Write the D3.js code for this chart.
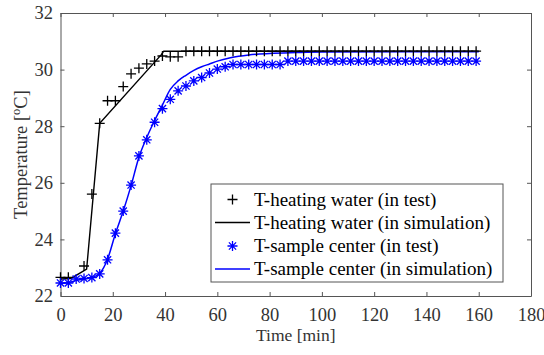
<!DOCTYPE html>
<html>
<head>
<meta charset="utf-8">
<script src="https://cdn.jsdelivr.net/npm/d3@7"></script>
<style>
  body { margin: 0; background: #fff; }
  svg { display: block; }
  svg text { font-family: 'Liberation Serif', 'Times New Roman', Times, serif; }
</style>
</head>
<body>
<div id="chart"></div>
<script>
// heating water, measured
const heatTestTime = [0, 3, 9, 12, 15, 18, 21, 24, 27, 30, 33, 36, 39, 42, 45,
  48, 51, 54, 57, 60, 63, 66, 69, 72, 75, 78, 81, 84, 87, 90, 93, 96, 99, 102, 105,
  108, 111, 114, 117, 120, 123, 126, 129, 132, 135, 138, 141, 144, 147, 150, 153, 156, 159];
const heatTestTemp = [22.66, 22.66, 23.06, 25.6, 28.1, 28.9, 28.9, 29.4, 29.85, 30.05, 30.2, 30.3, 30.48, 30.45, 30.45,
  30.65, 30.65, 30.65, 30.65, 30.65, 30.65, 30.65, 30.65, 30.65, 30.65, 30.65, 30.65, 30.65, 30.65, 30.65, 30.65, 30.65, 30.65, 30.65, 30.65,
  30.65, 30.65, 30.65, 30.65, 30.65, 30.65, 30.65, 30.65, 30.65, 30.65, 30.65, 30.65, 30.65, 30.65, 30.65, 30.65, 30.65, 30.65];

// heating water, simulation
const heatSimTime = [0, 4, 10, 15, 38.5, 39.5, 160];
const heatSimTemp = [22.6, 22.62, 22.95, 28.1, 30.52, 30.65, 30.65];

// sample center, measured
const sampleTestTime = [0, 3, 6, 9, 12, 15, 18, 21, 24, 27, 30, 33, 36, 39, 42, 45,
  48, 51, 54, 57, 60, 63, 66, 69, 72, 75, 78, 81, 84, 87, 90, 93, 96, 99, 102, 105,
  108, 111, 114, 117, 120, 123, 126, 129, 132, 135, 138, 141, 144, 147, 150, 153, 156, 159];
const sampleTestTemp = [22.46, 22.46, 22.6, 22.62, 22.65, 22.78, 23.28, 24.22, 25.0, 25.92, 26.95, 27.52, 28.14, 28.62, 28.95, 29.25,
  29.42, 29.6, 29.72, 29.88, 30.02, 30.1, 30.18, 30.18, 30.18, 30.18, 30.18, 30.18, 30.18, 30.3, 30.3, 30.3, 30.3, 30.3, 30.3, 30.3,
  30.3, 30.3, 30.3, 30.3, 30.3, 30.3, 30.3, 30.3, 30.3, 30.3, 30.3, 30.3, 30.3, 30.3, 30.3, 30.3, 30.3, 30.3];

// sample center, simulation
const sampleSimTime = [0, 3, 6, 9, 12, 15, 18, 21, 24, 27, 30, 33, 36, 39, 42, 45, 48, 51, 54, 57, 60, 65, 72, 80, 90, 100, 160];
const sampleSimTemp = [22.45, 22.47, 22.55, 22.6, 22.65, 22.8, 23.3, 24.2, 25.0, 25.9, 26.9, 27.6, 28.2, 28.75, 29.3, 29.6, 29.8, 29.97, 30.1, 30.2, 30.3, 30.42, 30.52, 30.57, 30.6, 30.62, 30.63];

const xTicks = [0, 20, 40, 60, 80, 100, 120, 140, 160, 180];
const yTicks = [22, 24, 26, 28, 30, 32];

const legendLabels = [
  "T-heating water (in test)",
  "T-heating water (in simulation)",
  "T-sample center (in test)",
  "T-sample center (in simulation)"
];

const W = 544, H = 355;
const plotLeft = 60.5, plotRight = 531, plotTop = 13, plotBottom = 296;
const axisColor = "#555", textColor = "#333";
const serif = "'Liberation Serif', 'Times New Roman', Times, serif";
const fontSize = "18.5px";

const svg = d3.select("#chart").append("svg")
  .attr("width", W)
  .attr("height", H)
  .attr("font-family", serif);

const x = d3.scaleLinear().domain([0, 180]).range([plotLeft, plotRight]);
const y = d3.scaleLinear().domain([22, 32]).range([plotBottom, plotTop]);

// axes (MATLAB style box with inward ticks)
svg.append("g")
  .attr("transform", `translate(0,${plotBottom})`)
  .call(d3.axisBottom(x).tickValues(xTicks).tickSize(-4).tickPadding(12).tickSizeOuter(0));
svg.append("g")
  .attr("transform", `translate(${plotLeft},0)`)
  .call(d3.axisLeft(y).tickValues(yTicks).tickSize(-4).tickPadding(7.5).tickSizeOuter(0));
svg.append("g")
  .attr("transform", `translate(0,${plotTop})`)
  .call(d3.axisTop(x).tickValues(xTicks).tickSize(-4).tickFormat("").tickSizeOuter(0));
svg.append("g")
  .attr("transform", `translate(${plotRight},0)`)
  .call(d3.axisRight(y).tickValues(yTicks).tickSize(-4).tickFormat("").tickSizeOuter(0));

svg.selectAll("g").attr("font-family", serif).attr("font-size", fontSize);
svg.selectAll(".domain, .tick line").attr("stroke", axisColor);
svg.selectAll(".tick text").attr("fill", textColor);

// axis labels
svg.append("text")
  .attr("x", (plotLeft + plotRight) / 2)
  .attr("y", 341)
  .attr("text-anchor", "middle")
  .attr("fill", textColor)
  .attr("font-size", "17.5px")
  .text("Time [min]");

const yLab = svg.append("text")
  .attr("transform", `translate(27,${(plotTop + plotBottom) / 2}) rotate(-90)`)
  .attr("text-anchor", "middle")
  .attr("fill", textColor)
  .attr("font-size", fontSize);
yLab.append("tspan").text("Temperature [");
yLab.append("tspan").attr("dy", -7).attr("font-size", "12.5px").text("o");
yLab.append("tspan").attr("dy", 7).text("C]");

// marker shapes
function plusPath(r) {
  return `M${-r},0L${r},0M0,${-r}L0,${r}`;
}
function starPath(r) {
  const a = r * 0.72;
  return `M${-r},0L${r},0M0,${-r}L0,${r}M${-a},${-a}L${a},${a}M${-a},${a}L${a},${-a}`;
}

const line = d3.line().x(d => x(d[0])).y(d => y(d[1]));

// simulation lines
svg.append("path")
  .datum(d3.zip(heatSimTime, heatSimTemp))
  .attr("d", line)
  .attr("fill", "none")
  .attr("stroke", "#000")
  .attr("stroke-width", 1.4);

svg.append("path")
  .datum(d3.zip(sampleSimTime, sampleSimTemp))
  .attr("d", line.curve(d3.curveMonotoneX))
  .attr("fill", "none")
  .attr("stroke", "#0000ff")
  .attr("stroke-width", 1.5);

// test markers
svg.append("g").selectAll("path")
  .data(d3.zip(heatTestTime, heatTestTemp))
  .join("path")
  .attr("transform", d => `translate(${x(d[0])},${y(d[1])})`)
  .attr("d", plusPath(5))
  .attr("fill", "none")
  .attr("stroke", "#000")
  .attr("stroke-width", 1.3);

svg.append("g").selectAll("path")
  .data(d3.zip(sampleTestTime, sampleTestTemp))
  .join("path")
  .attr("transform", d => `translate(${x(d[0])},${y(d[1])})`)
  .attr("d", starPath(5))
  .attr("fill", "none")
  .attr("stroke", "#0000ff")
  .attr("stroke-width", 1.3);

// legend
const lg = svg.append("g");
lg.append("rect")
  .attr("x", 211).attr("y", 184)
  .attr("width", 292).attr("height", 98)
  .attr("fill", "#fff")
  .attr("stroke", axisColor);

const rowY = [199.5, 222.5, 246, 269];
const legendStyle = [
  {color: "#000", kind: "plus"},
  {color: "#000", kind: "line"},
  {color: "#0000ff", kind: "star"},
  {color: "#0000ff", kind: "line"}
];
legendLabels.forEach((label, i) => {
  const s = legendStyle[i];
  if (s.kind === "line") {
    lg.append("line")
      .attr("x1", 215).attr("x2", 250)
      .attr("y1", rowY[i]).attr("y2", rowY[i])
      .attr("stroke", s.color).attr("stroke-width", 1.4);
  } else {
    lg.append("path")
      .attr("transform", `translate(232.5,${rowY[i]})`)
      .attr("d", s.kind === "plus" ? plusPath(5) : starPath(5))
      .attr("fill", "none")
      .attr("stroke", s.color)
      .attr("stroke-width", 1.3);
  }
  lg.append("text")
    .attr("x", 254)
    .attr("y", rowY[i])
    .attr("dy", "0.33em")
    .attr("fill", "#000")
    .attr("font-family", serif)
    .attr("font-size", "19px")
    .text(label);
});
</script>
</body>
</html>
